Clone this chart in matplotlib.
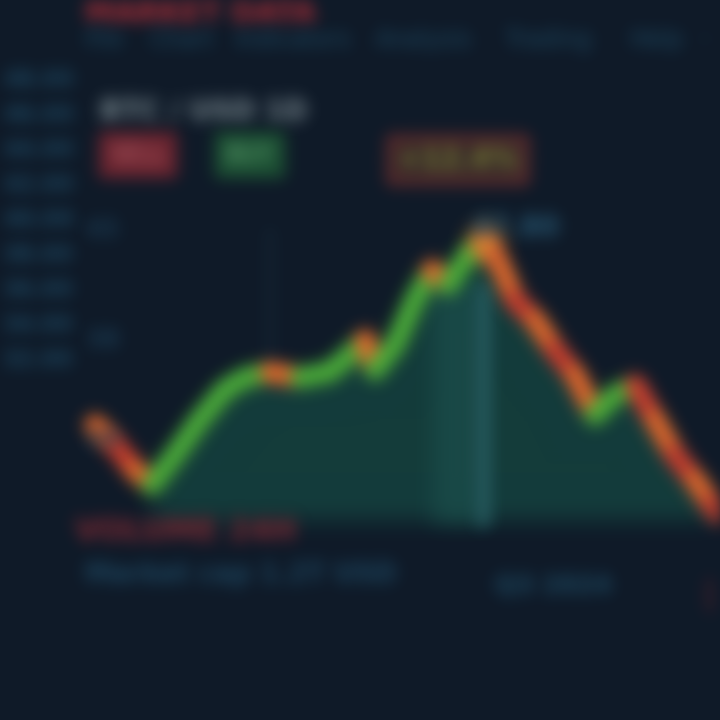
import numpy as np
import matplotlib
matplotlib.use("Agg")
import matplotlib.pyplot as plt
from matplotlib.collections import LineCollection

# price path (day, price)
days = [9.5, 11.5, 13.5, 15.2, 17.5, 20.0, 22.5, 24.5, 27.0, 30.0, 33.0, 35.0,
        36.5, 37.5, 39.5, 41.5, 43.2, 44.8, 46.8, 48.5, 50.0, 51.5, 53.5, 55.5,
        57.5, 59.5, 61.5, 63.5, 65.5, 67.5, 69.5, 71.2, 72.0]
prices = [29.5, 27.5, 25.0, 23.5, 26.5, 30.0, 33.0, 34.2, 34.8, 34.2, 34.8, 36.5,
          38.0, 35.0, 37.5, 42.0, 45.0, 43.5, 46.5, 47.8, 45.5, 42.0, 40.0, 37.0,
          34.5, 30.5, 32.5, 33.5, 30.0, 26.5, 24.0, 21.5, 20.5]
fill_start = 15.2
fill_base = 20.0

menu_items = ["File", "Chart", "Indicators", "Analysis", "Trading", "Help", "··"]
menu_x = [8.5, 15.0, 23.5, 37.5, 50.5, 63.0, 69.8]
side_labels = ["48.00", "46.00", "44.00", "42.00", "40.00", "38.00", "36.00",
               "34.00", "32.00"]
side_y = [64.0, 60.5, 57.0, 53.5, 50.0, 46.5, 43.0, 39.5, 36.0]
inner_labels = ["45", "38", "28"]
inner_y = [49.0, 38.0, 28.0]

BG = "#0f1a28"
GREEN = "#4caf3a"
ORANGE = "#e2682c"
RED = "#cc3e2e"


def gauss_blur(sigma):
    pad = int(sigma * 3)
    k = np.exp(-0.5 * (np.arange(-pad, pad + 1) / sigma) ** 2)
    k /= k.sum()

    def f(im, dpi):
        a = np.pad(im, ((2 * pad, 2 * pad), (2 * pad, 2 * pad), (0, 0))).astype(float)
        a[..., :3] *= a[..., 3:4]
        for axis in (0, 1):
            p = np.pad(a, [(pad, pad) if i == axis else (0, 0) for i in range(3)])
            out = np.zeros_like(a)
            L = a.shape[axis]
            for i, w in enumerate(k):
                out += w * (p[i:i + L] if axis == 0 else p[:, i:i + L])
            a = out
        al = a[..., 3:4]
        a[..., :3] = np.where(al > 1e-6, a[..., :3] / np.maximum(al, 1e-6), 0)
        return np.clip(a, 0, 1), -2 * pad, -2 * pad
    return f


blur = gauss_blur(8)

fig = plt.figure(figsize=(7.2, 7.2), dpi=100, facecolor=BG)
ax = fig.add_axes([0, 0, 1, 1])
ax.set_facecolor(BG)
ax.set_xlim(0, 72)
ax.set_ylim(0, 72)
ax.axis("off")

d = np.array(days)
p = np.array(prices)

# shaded area under the price
m = d >= fill_start
area = ax.fill_between(d[m], p[m], fill_base, color="#153f3e", alpha=0.95, lw=0)
area.set_agg_filter(blur)
core = ax.fill_between(d[m], np.minimum(p[m], 44), fill_base,
                       where=(d[m] > 43) & (d[m] < 50), color="#1a4a48", lw=0)
core.set_agg_filter(blur)

# crosshair / grid lines
for xv, y0, y1, c, lw in [(48.3, 20.0, 43.0, "#2a6066", 8), (27.0, 34.5, 49.0, "#1a2d3c", 3)]:
    ln, = ax.plot([xv, xv], [y0, y1], color=c, lw=lw)
    ln.set_agg_filter(blur)

# price path, green when rising, red/orange when falling
segs = [[(d[i], p[i]), (d[i + 1], p[i + 1])] for i in range(len(d) - 1)]
cols = []
for i in range(len(d) - 1):
    if p[i + 1] > p[i]:
        cols.append(GREEN)
    else:
        cols.append(ORANGE if i % 2 == 0 else RED)
lc = LineCollection(segs, colors=cols, linewidths=15, capstyle="round")
lc.set_agg_filter(blur)
ax.add_collection(lc)
pk = ax.scatter([d[19]], [p[19]], s=380, color="#f0a032", zorder=3)
pk.set_agg_filter(blur)

texts = []
# header
texts.append(ax.text(8.5, 70.6, "MARKET DATA", color="#b52f38", fontsize=21,
                     fontweight="bold", va="center"))
for lab, xv in zip(menu_items, menu_x):
    texts.append(ax.text(xv, 68.0, lab, color="#1f4d66", fontsize=17, va="center"))
# left price scale
for lab, yv in zip(side_labels, side_y):
    texts.append(ax.text(0.3, yv, lab, color="#1e4a64", fontsize=16, va="center",
                         fontweight="bold"))
for lab, yv in zip(inner_labels, inner_y):
    texts.append(ax.text(8.5, yv, lab, color="#1b3b52", fontsize=18, va="center",
                         fontweight="bold"))
# legend block
texts.append(ax.text(10.0, 60.8, "BTC / USD 1D", color="#7d8c92", fontsize=20,
                     fontweight="bold", va="center"))
texts.append(ax.text(11.0, 56.5, "SELL", color="#b86870", fontsize=17, va="center",
                     bbox=dict(boxstyle="square,pad=0.45", fc="#6e2530", ec="none")))
texts.append(ax.text(22.6, 56.5, "BUY", color="#68a878", fontsize=17, va="center",
                     bbox=dict(boxstyle="square,pad=0.45", fc="#1d5234", ec="none")))
# peak annotation
texts.append(ax.text(45.8, 56.0, "+12.4%", color="#7d8236", fontsize=20, ha="center",
                     va="center", fontweight="bold",
                     bbox=dict(boxstyle="square,pad=0.3", fc="#372a2a", ec="#7a2e2e", lw=4)))
texts.append(ax.text(47.2, 49.2, "47.80", color="#285a76", fontsize=20, va="center",
                     fontweight="bold"))
# footer
texts.append(ax.text(7.5, 18.8, "VOLUME 24H", color="#872a33", fontsize=22,
                     fontweight="bold", va="center"))
texts.append(ax.text(8.5, 14.5, "Market cap 1.2T USD", color="#1e4862", fontsize=19,
                     va="center", fontweight="bold"))
texts.append(ax.text(49.5, 13.5, "Q3 2024", color="#1f4d66", fontsize=18, va="center",
                     fontweight="bold"))
texts.append(ax.text(70.4, 12.5, "|", color="#7a2630", fontsize=24, va="center"))
for t in texts:
    t.set_agg_filter(blur)

fig.savefig("out.png", dpi=100, facecolor=BG)
